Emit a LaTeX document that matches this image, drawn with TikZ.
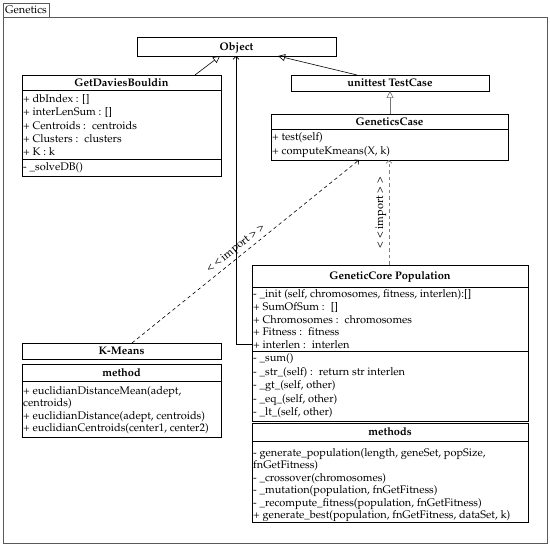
\documentclass[tikz,border=0pt]{standalone}
\usepackage[T1]{fontenc}
\usepackage{mathpazo}
\usetikzlibrary{arrows.meta,calc}
\begin{document}
\begin{tikzpicture}[x=1pt,y=-1pt,
  box/.style={draw, line width=0.6pt, inner sep=0pt, outer sep=0pt, anchor=north west},
  frm/.style={draw=black!65, line width=0.9pt, inner sep=0pt, outer sep=0pt, anchor=north west},
  txt/.style={anchor=base west, inner sep=0pt, font=\fontsize{11}{12}\selectfont},
  ttl/.style={anchor=base, inner sep=0pt, font=\fontsize{11}{12}\selectfont\bfseries},
  sep/.style={line width=0.6pt},
  gen/.style={line width=0.6pt, -{Triangle[open,length=7pt,width=7pt]}},
  assoc/.style={line width=0.6pt, -{Straight Barb[length=3pt,width=6pt]}},
  dep/.style={line width=0.6pt, dash pattern=on 3.5pt off 3pt, -{Straight Barb[length=3pt,width=6pt]}},
  lbl/.style={inner sep=0pt, font=\fontsize{11}{12}\selectfont}
]
\useasboundingbox (0,0) rectangle (550,545);
% package frame
\node[frm, minimum width=46pt, minimum height=14pt] (tab) at (3,3) {};
\node[frm, minimum width=544pt, minimum height=526pt] (pkg) at (3,17) {};
\node[txt] (tabt) at (5,14) {Genetics};

% Object
\node[box, minimum width=199pt, minimum height=19pt] (obj) at (137,37) {};
\node[ttl] (objt) at (236.5,50.5) {Object};

% GetDaviesBouldin
\node[box, minimum width=199pt, minimum height=101pt] (gdb) at (22,75) {};
\draw[sep] (22,90) -- (221,90);
\draw[sep] (22,159) -- (221,159);
\node[ttl] (gdbt) at (121.5,87) {GetDaviesBouldin};
\node[txt] (g1) at (23,103) {+ dbIndex : []};
\node[txt] (g2) at (23,116) {+ interLenSum : []};
\node[txt] (g3) at (23,129.5) {+ Centroids : \ centroids};
\node[txt] (g4) at (23,142.5) {+ Clusters : \ clusters};
\node[txt] (g5) at (23,155.5) {+ K : k};
\node[txt] (g6) at (23,171) {- \_solveDB()};

% unittest TestCase
\node[box, minimum width=198pt, minimum height=16pt] (utc) at (291,75) {};
\node[ttl] (utct) at (390,87) {unittest TestCase};

% GeneticsCase
\node[box, minimum width=237pt, minimum height=46pt] (gc) at (271,114) {};
\draw[sep] (271,129) -- (508,129);
\node[ttl] (gct) at (389.5,126) {GeneticsCase};
\node[txt] (gc1) at (272,141) {+ test(self)};
\node[txt] (gc2) at (272,154.5) {+ computeKmeans(X, k)};

% K-Means
\node[box, minimum width=199pt, minimum height=16pt] (km) at (22,343) {};
\node[ttl] (kmt) at (121.5,355) {K-Means};

% method
\node[box, minimum width=199pt, minimum height=73pt] (meth) at (22,364) {};
\draw[sep] (22,381) -- (221,381);
\node[ttl] (metht) at (121.5,377) {method};
\node[txt] (m1) at (23,394.5) {+ euclidianDistanceMean(adept,};
\node[txt] (m2) at (23,407) {centroids)};
\node[txt] (m3) at (23,419.5) {+ euclidianDistance(adept, centroids)};
\node[txt] (m4) at (23,432) {+ euclidianCentroids(center1, center2)};

% GeneticCore Population
\node[box, minimum width=276pt, minimum height=156pt] (gcp) at (252,265) {};
\draw[sep] (252,287) -- (528,287);
\node[ttl] (gcpt) at (390,280) {GeneticCore Population};
\draw[sep] (252,351) -- (528,351);
\node[txt] (p1) at (253,297.5) {- \_init (self, chromosomes, fitness, interlen):[]};
\node[txt] (p2) at (253,310.5) {+ SumOfSum : \ []};
\node[txt] (p3) at (253,323.5) {+ Chromosomes : \ chromosomes};
\node[txt] (p4) at (253,336) {+ Fitness : \ fitness};
\node[txt] (p5) at (253,348.5) {+ interlen : \ interlen};
\node[txt] (p6) at (253,362) {- \_sum()};
\node[txt] (p7) at (253,375.5) {- \_str\_(self) : \ return str interlen};
\node[txt] (p8) at (253,389) {- \_gt\_(self, other)};
\node[txt] (p9) at (253,402.5) {- \_eq\_(self, other)};
\node[txt] (p10) at (253,416) {- \_lt\_(self, other)};

% methods
\node[box, minimum width=276pt, minimum height=99pt] (mths) at (252,423) {};
\draw[sep] (252,441) -- (528,441);
\node[ttl] (mthst) at (390,436) {methods};
\node[txt] (q1) at (253,456.5) {- generate\_population(length, geneSet, popSize,};
\node[txt] (q2) at (253,469) {fnGetFitness)};
\node[txt] (q3) at (253,481.5) {- \_crossover(chromosomes)};
\node[txt] (q4) at (253,494) {- \_mutation(population, fnGetFitness)};
\node[txt] (q5) at (253,506.5) {- \_recompute\_fitness(population, fnGetFitness)};
\node[txt] (q6) at (253,519) {+ generate\_best(population, fnGetFitness, dataSet, k)};

% connector end points
\coordinate (gdbtop) at (195,75);
\coordinate (objA) at (220,56);
\coordinate (utctop) at (357,75);
\coordinate (objC) at (278,56);
\coordinate (objB) at (236,56);
\coordinate (gcpside) at (252,344);
\coordinate (bend) at (236,344);
\coordinate (gctop) at (390,114);
\coordinate (utcbot) at (390,91);
\coordinate (kmtop) at (132,343);
\coordinate (gcbotA) at (359,160);
\coordinate (gcptop) at (389,265);
\coordinate (gcbotB) at (389,160);

% connectors
\draw[gen] (gdbtop) -- (objA);
\draw[gen] (utctop) -- (objC);
\draw[gen, draw=black!55] (gctop) -- (utcbot);
\draw[assoc] (gcpside) -- (bend) -- (objB);
\draw[dep] (kmtop) -- node[lbl, pos=0.48, sloped, above=2.5pt] (imp1) {\textless\ \textless\ import \textgreater\ \textgreater} (gcbotA);
\draw[dep, draw=black!50] (gcptop) -- node[lbl, pos=0.5, sloped, above=2.5pt] (imp2) {\textless\ \textless\ import \textgreater\ \textgreater} (gcbotB);
\end{tikzpicture}
\end{document}
